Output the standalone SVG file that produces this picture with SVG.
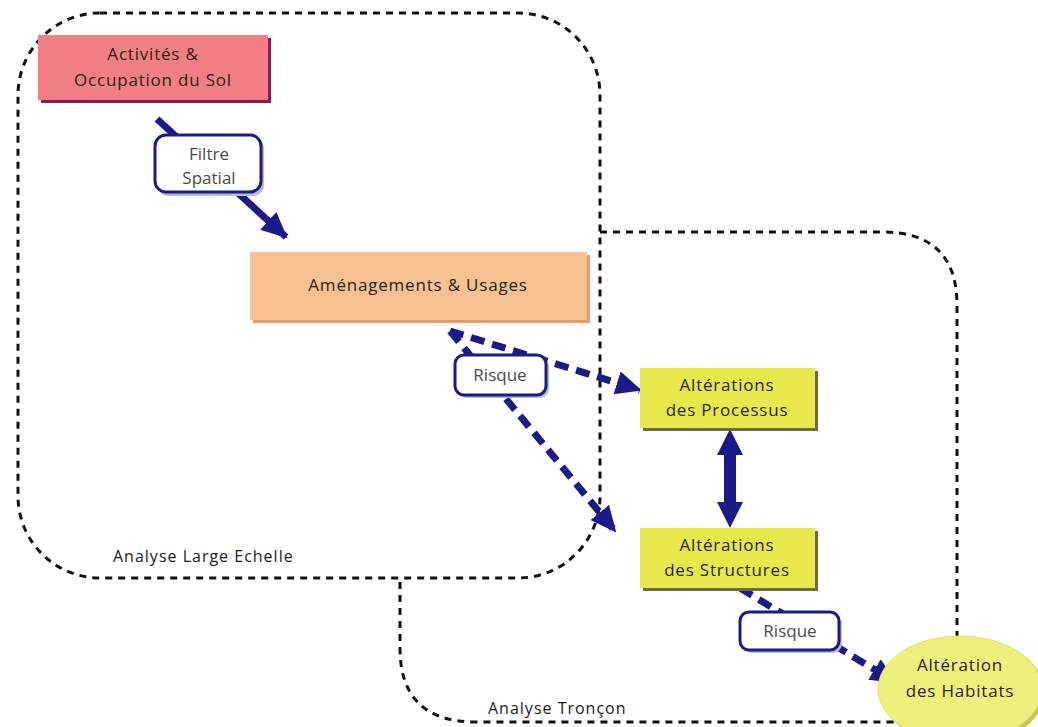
<svg xmlns="http://www.w3.org/2000/svg" width="1038" height="727" viewBox="0 0 1038 727">
<style>
.region{fill:none;stroke:#111;stroke-width:3;stroke-dasharray:7 6}
.rtxt{font-family:"Open Sans","Liberation Sans",sans-serif;font-size:16px;letter-spacing:1px;fill:#1a1a1a}
.ntxt{font-family:"Open Sans","Liberation Sans",sans-serif;font-size:17px;letter-spacing:0.8px;fill:#2a1f10;text-anchor:middle}
.ltxt{font-family:"Open Sans","Liberation Sans",sans-serif;font-size:17px;fill:#4a4a4a;text-anchor:middle}
.lbl{fill:#fff;stroke:#1c1a8a;stroke-width:3}
.lsh{fill:#bbb}
.solid{stroke:#1c1a8a;stroke-width:7;fill:none}
.dash{stroke:#1c1a8a;stroke-width:7;fill:none;stroke-dasharray:14 8}
</style>
<defs>
<marker id="ah" markerUnits="userSpaceOnUse" markerWidth="28" markerHeight="28" refX="24" refY="14" orient="auto">
<path d="M0,2 L26,14 L0,26 Z" fill="#1c1a8a"/>
</marker>
</defs>
<rect width="1038" height="727" fill="#fff"/>
<g id="regions">
<rect class="region" x="18" y="13" width="582" height="565" rx="82" ry="82"/>
<path class="region" d="M600,232 H882 Q957,232 957,305 V700"/>
<path class="region" d="M400,582 V648 Q400,722 476,722 H890 Q930,722 945,700"/>
<text class="rtxt" x="113" y="562">Analyse Large Echelle</text>
<text class="rtxt" x="488" y="714">Analyse Tronçon</text>
</g>
<g id="connectors">
<line class="solid" x1="157" y1="119" x2="286" y2="237" marker-end="url(#ah)"/>
<line class="dash" x1="450" y1="331" x2="640" y2="390" marker-end="url(#ah)"/>
<line class="dash" x1="450" y1="331" x2="615" y2="531" marker-end="url(#ah)"/>
<line class="dash" x1="740" y1="588" x2="895" y2="682" marker-end="url(#ah)"/>
<path d="M730,429 L743,455 L736,455 L736,502 L743,502 L730,528 L717,502 L724,502 L724,455 L717,455 Z" fill="#1c1a8a"/>
</g>
<g id="n1">
<rect x="41" y="38" width="230" height="65" fill="#8c1a5a"/>
<rect x="38" y="35" width="230" height="65" fill="#f27f86"/>
<text class="ntxt" x="153" y="60">Activités &amp;</text>
<text class="ntxt" x="153" y="86">Occupation du Sol</text>
</g>
<g id="n2">
<rect class="lsh" x="158" y="138" width="106" height="58" rx="11"/>
<rect class="lbl" x="155" y="135" width="106" height="57" rx="11"/>
<text class="ltxt" x="209" y="160">Filtre</text>
<text class="ltxt" x="209" y="184">Spatial</text>
</g>
<g id="n3">
<rect x="253" y="255" width="337" height="68" fill="#e9996a"/>
<rect x="250" y="252" width="337" height="68" fill="#f7c191"/>
<text class="ntxt" x="418" y="291">Aménagements &amp; Usages</text>
</g>
<g id="n4">
<rect class="lsh" x="458" y="358" width="91" height="40" rx="9"/>
<rect class="lbl" x="455" y="355" width="91" height="40" rx="9"/>
<text class="ltxt" x="500" y="381">Risque</text>
</g>
<g id="n5">
<rect x="643" y="371" width="175" height="60" fill="#6e6e3c"/>
<rect x="640" y="368" width="175" height="60" fill="#e8e84c"/>
<text class="ntxt" x="727" y="391">Altérations</text>
<text class="ntxt" x="727" y="416">des Processus</text>
</g>
<g id="n6">
<rect x="643" y="531" width="175" height="60" fill="#6e6e3c"/>
<rect x="640" y="528" width="175" height="60" fill="#e8e84c"/>
<text class="ntxt" x="727" y="551">Altérations</text>
<text class="ntxt" x="727" y="576">des Structures</text>
</g>
<g id="n7">
<rect class="lsh" x="743" y="615" width="99" height="38" rx="9"/>
<rect class="lbl" x="740" y="612" width="99" height="38" rx="9"/>
<text class="ltxt" x="790" y="637">Risque</text>
</g>
<g id="n8">
<ellipse cx="963" cy="692" rx="82" ry="54" fill="#c8c850"/>
<ellipse cx="960" cy="689" rx="82" ry="53" fill="#eef07c" stroke="#e0e070" stroke-width="1"/>
<text class="ntxt" x="960" y="671">Altération</text>
<text class="ntxt" x="960" y="697">des Habitats</text>
</g>
</svg>
